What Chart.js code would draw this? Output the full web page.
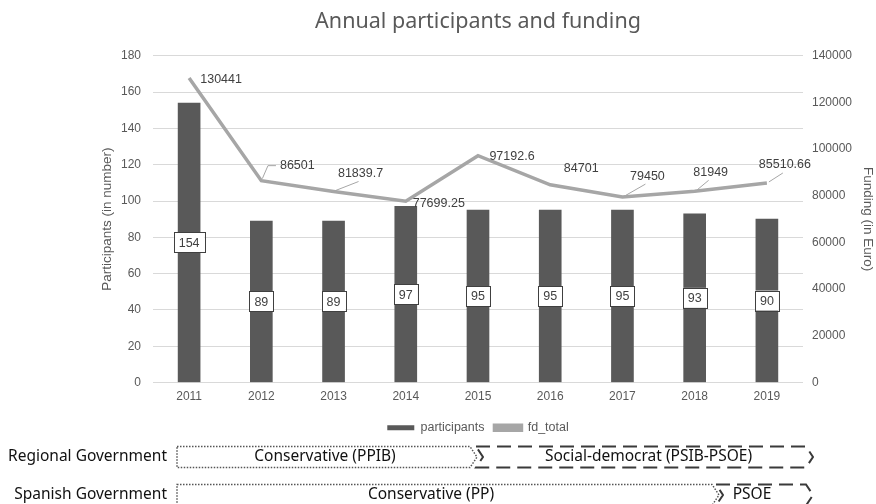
<!DOCTYPE html>
<html>
<head>
<meta charset="utf-8">
<script src="https://cdn.jsdelivr.net/npm/chart.js@4.4.1/dist/chart.umd.min.js"></script>
<style>
  html, body { margin: 0; padding: 0; background: #fff; }
  #wrap { width: 876px; height: 504px; }
</style>
</head>
<body>
<div id="wrap"><canvas id="fundChart" width="876" height="504"></canvas></div>
<script>
const years = ['2011', '2012', '2013', '2014', '2015', '2016', '2017', '2018', '2019'];
const participants = [154, 89, 89, 97, 95, 95, 95, 93, 90];
const fdTotal = [130441, 86501, 81839.7, 77699.25, 97192.6, 84701, 79450, 81949, 85510.66];
const fdLabels = ['130441', '86501', '81839.7', '77699.25', '97192.6', '84701', '79450', '81949', '85510.66'];

// where each funding label sits relative to its point, and leader style
const fdLabelOffsets = [[32, 1, null], [36, -15, 'left'], [27, -18, 'bottom'], [33, 2, null], [34, 1, null],
                        [31, -16, null], [25, -21, 'bottom'], [16, -19, 'bottom'], [18, -18, 'bottom']];

const govRows = [
    { label: 'Regional Government', y: 457, segs: [
        { text: 'Conservative (PPIB)', x0: 177, x1: 477, style: 'dot', notch: false },
        { text: 'Social-democrat (PSIB-PSOE)', x0: 476, x1: 813, style: 'dash', notch: true }
    ]},
    { label: 'Spanish Government', y: 495, segs: [
        { text: 'Conservative (PP)', x0: 177, x1: 719, style: 'dot', notch: false, tx: 431 },
        { text: 'PSOE', x0: 716, x1: 813, style: 'dash', notch: true, tx: 752 }
    ]}
];

const labelPlugin = {
    id: 'labelPlugin',
    afterDatasetsDraw(chart) {
        const ctx = chart.ctx;
        ctx.save();
        // bar value boxes
        const barMeta = chart.getDatasetMeta(0);
        ctx.font = '12.5px "Liberation Sans", Arial, sans-serif';
        ctx.textAlign = 'center';
        ctx.textBaseline = 'middle';
        barMeta.data.forEach((bar, i) => {
            const txt = String(participants[i]);
            const cy = (bar.y + bar.base) / 2;
            const w = ctx.measureText(txt).width + 10;
            const h = 20;
            ctx.fillStyle = '#fff';
            ctx.fillRect(bar.x - w / 2, cy - h / 2, w, h);
            ctx.strokeStyle = '#404040';
            ctx.lineWidth = 1;
            ctx.strokeRect(Math.round(bar.x - w / 2) + 0.5, Math.round(cy - h / 2) + 0.5, Math.round(w), h);
            ctx.fillStyle = '#404040';
            ctx.fillText(txt, bar.x, cy + 1);
        });
        // funding labels
        const lineMeta = chart.getDatasetMeta(1);
        lineMeta.data.forEach((pt, i) => {
            const [dx, dy, leader] = fdLabelOffsets[i];
            const lx = pt.x + dx, ly = pt.y + dy;
            const tw = ctx.measureText(fdLabels[i]).width;
            if (leader) {
                ctx.strokeStyle = '#A6A6A6';
                ctx.lineWidth = 1;
                ctx.beginPath();
                if (leader === 'left') {
                    ctx.moveTo(pt.x + 1, pt.y - 2);
                    ctx.lineTo(lx - tw / 2 - 12, ly);
                    ctx.lineTo(lx - tw / 2 - 4, ly);
                } else {
                    ctx.moveTo(pt.x + 2, pt.y - 1);
                    ctx.lineTo(lx - 2, ly + 8);
                }
                ctx.stroke();
            }
            ctx.fillStyle = '#404040';
            ctx.fillText(fdLabels[i], lx, ly);
        });
        ctx.restore();
    }
};

function chevron(ctx, x0, x1, yc, h, notch) {
    const top = yc - h / 2, bot = yc + h / 2, tip = 7;
    ctx.beginPath();
    ctx.moveTo(x0, top);
    ctx.lineTo(x1 - tip, top);
    ctx.lineTo(x1, yc);
    ctx.lineTo(x1 - tip, bot);
    ctx.lineTo(x0, bot);
    if (notch) ctx.lineTo(x0 + tip, yc);
    ctx.closePath();
    ctx.stroke();
}

const govPlugin = {
    id: 'govPlugin',
    afterDraw(chart) {
        const ctx = chart.ctx;
        ctx.save();
        ctx.textBaseline = 'middle';
        govRows.forEach(row => {
            ctx.font = '15.5px "Noto Sans", "Open Sans", sans-serif';
            ctx.fillStyle = '#111';
            ctx.textAlign = 'right';
            ctx.fillText(row.label, 167, row.y);
            row.segs.forEach(s => {
                ctx.strokeStyle = s.style === 'dot' ? '#555' : '#3a3a3a';
                ctx.lineWidth = s.style === 'dot' ? 1.5 : 2;
                ctx.setLineDash(s.style === 'dot' ? [1.5, 1.5] : [14, 7]);
                chevron(ctx, s.x0, s.x1, row.y, 21, s.notch);
                ctx.setLineDash([]);
                ctx.fillStyle = '#111';
                ctx.textAlign = 'center';
                const tx = s.tx !== undefined ? s.tx : (s.x0 + s.x1) / 2 + (s.notch ? 4 : -2);
                ctx.fillText(s.text, tx, row.y);
            });
        });
        ctx.restore();
    }
};

const tickFont = { family: '"Liberation Sans", Arial, sans-serif', size: 12 };
const axisTitleFont = { family: '"Liberation Sans", Arial, sans-serif', size: 13.5 };

new Chart(document.getElementById('fundChart'), {
    data: {
        labels: years,
        datasets: [{
            type: 'bar',
            label: 'participants',
            data: participants,
            backgroundColor: '#595959',
            barThickness: 22,
            yAxisID: 'y',
            order: 1
        }, {
            type: 'line',
            label: 'fd_total',
            data: fdTotal,
            borderColor: '#A6A6A6',
            backgroundColor: '#A6A6A6',
            borderWidth: 3.5,
            pointRadius: 0,
            tension: 0,
            yAxisID: 'y1',
            order: 0
        }]
    },
    options: {
        responsive: false,
        animation: false,
        maintainAspectRatio: false,
        layout: { padding: { left: 80, right: 0, top: 0, bottom: 60 } },
        plugins: {
            title: {
                display: true,
                text: 'Annual participants and funding',
                color: '#595959',
                font: { family: '"Noto Sans", "Open Sans", sans-serif', size: 21.5, weight: 'normal' },
                padding: { top: 9, bottom: 21 }
            },
            legend: {
                position: 'bottom',
                labels: {
                    color: '#595959',
                    font: { family: '"Liberation Sans", Arial, sans-serif', size: 12.5 },
                    boxWidth: 27,
                    boxHeight: 5,
                    padding: 10,
                    sort: (a, b) => a.datasetIndex - b.datasetIndex
                }
            },
            tooltip: { enabled: false }
        },
        scales: {
            x: {
                grid: { display: false, drawTicks: false },
                border: { display: false },
                ticks: { color: '#595959', font: tickFont, padding: 7, maxRotation: 0 },
                afterFit(scale) { scale.height = 29; }
            },
            y: {
                position: 'left',
                min: 0, max: 180,
                ticks: { stepSize: 20, color: '#595959', font: tickFont, padding: 12 },
                grid: { color: '#D9D9D9', drawTicks: false },
                border: { display: false },
                title: {
                    display: true, text: 'Participants (in number)', color: '#595959',
                    font: axisTitleFont,
                    padding: { top: 19, bottom: 0 }
                },
                afterFit(scale) { scale.width = 73; }
            },
            y1: {
                position: 'right',
                min: 0, max: 140000,
                ticks: { stepSize: 20000, color: '#595959', font: tickFont, padding: 9,
                         callback: v => String(v) },
                grid: { display: false, drawTicks: false },
                border: { display: false },
                title: {
                    display: true, text: 'Funding (in Euro)', color: '#595959',
                    font: axisTitleFont,
                    padding: { top: 0, bottom: 0 }
                },
                afterFit(scale) { scale.width = 73; }
            }
        }
    },
    plugins: [labelPlugin, govPlugin]
});
</script>
</body>
</html>
